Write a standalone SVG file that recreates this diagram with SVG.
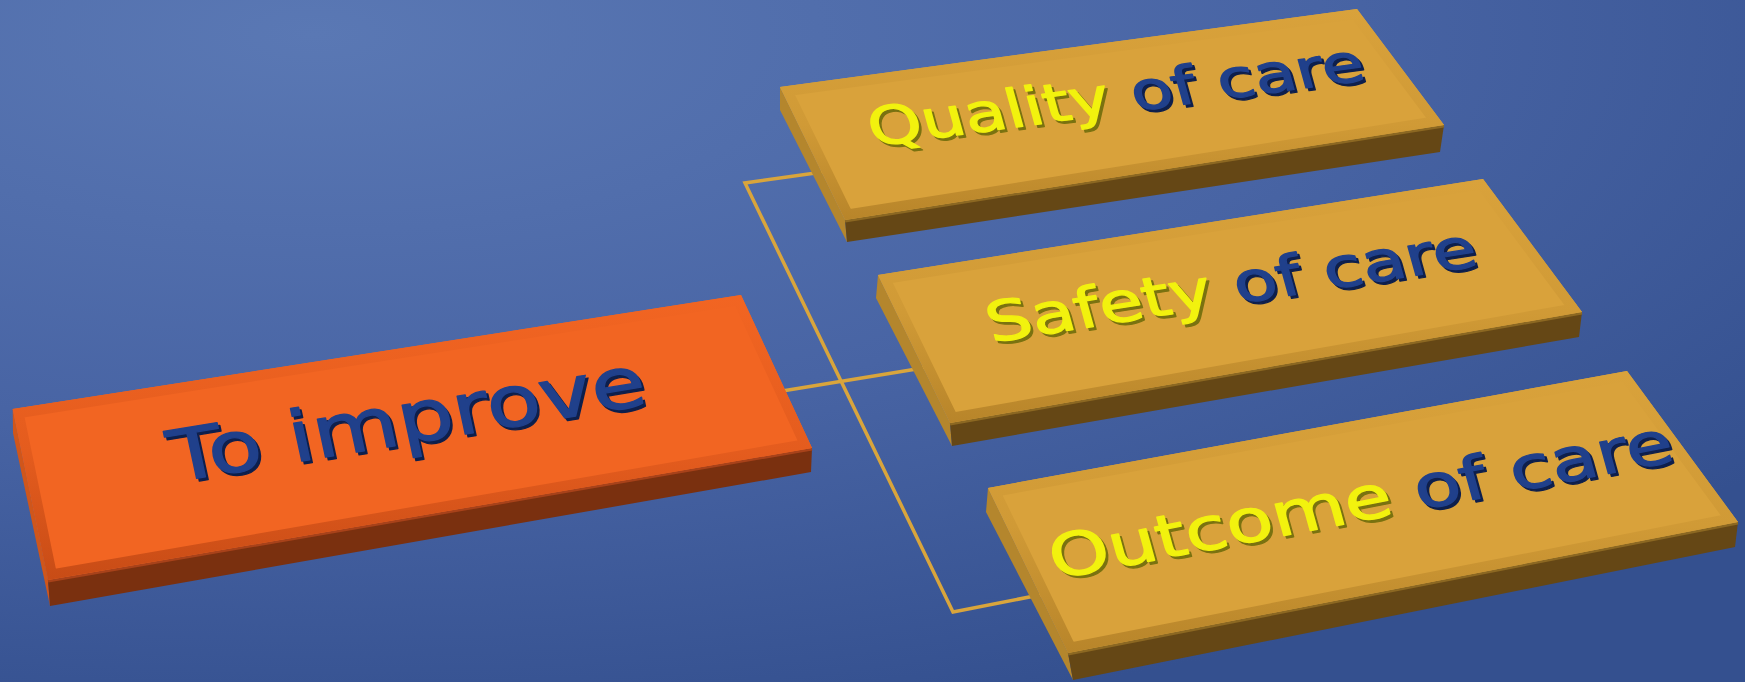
<svg xmlns="http://www.w3.org/2000/svg" width="1745" height="682" viewBox="0 0 1745 682">
<defs>
<radialGradient id="bg" cx="0.18" cy="0.05" r="1.05">
<stop offset="0" stop-color="#5A78B4"/>
<stop offset="0.55" stop-color="#4864A4"/>
<stop offset="1" stop-color="#34508F"/>
</radialGradient>
<linearGradient id="goldBevel" x1="0" y1="0" x2="0" y2="1">
<stop offset="0" stop-color="#D9A23B"/>
<stop offset="0.55" stop-color="#D09A36"/>
<stop offset="1" stop-color="#B8852A"/>
</linearGradient>
<linearGradient id="orangeBevel" x1="0" y1="0" x2="0" y2="1">
<stop offset="0" stop-color="#F26522"/>
<stop offset="0.55" stop-color="#E45C1E"/>
<stop offset="1" stop-color="#C84C16"/>
</linearGradient>
<polygon id="o-top" points="12.7,409 741,295 812,448 48,580"/>
<polygon id="q-top" points="780,87 1357,9 1444,125 845,220"/>
<polygon id="s-top" points="878,275 1483,179 1582,312 950,423"/>
<polygon id="c-top" points="988,488 1627,371 1738,522 1068,653"/>
<clipPath id="o-clip"><use href="#o-top"/></clipPath>
<clipPath id="q-clip"><use href="#q-top"/></clipPath>
<clipPath id="s-clip"><use href="#s-top"/></clipPath>
<clipPath id="c-clip"><use href="#c-top"/></clipPath>
</defs>
<style>
.bg{fill:url(#bg)}
.conn{fill:none;stroke:#D9A53C;stroke-width:3.5;stroke-linecap:round;stroke-linejoin:miter}
.g-top{fill:#D9A23B}
.g-bevel{fill:none;stroke:url(#goldBevel);stroke-width:20}
.g-front{fill:#654715}
.g-side{fill:#B4862D}
.g-edge{fill:none;stroke:#8C6822;stroke-width:3}
.o-top{fill:#F26522}
.o-bevel{fill:none;stroke:url(#orangeBevel);stroke-width:20}
.o-front{fill:#7A300F}
.o-side{fill:#D0561B}
.o-edge{fill:none;stroke:#A8421A;stroke-width:3}
.lbl{font-family:"DejaVu Sans",Verdana,sans-serif;text-anchor:middle;stroke-width:1.6;stroke-linejoin:round}
.blue{fill:#20408B;stroke:#20408B}
.yel{fill:#F2F20E;stroke:#F2F20E}
.sh-b{fill:#0E1F4C;stroke:#0E1F4C}
.sh-y{fill:#7A7210;stroke:#7A7210}
</style>
<rect class="bg" x="0" y="0" width="1745" height="682"/>
<g id="connectors">
<polyline class="conn" points="830,171 745,183 953,612 1060,591"/>
<line class="conn" x1="770" y1="393" x2="935" y2="366"/>
</g>
<g id="node-improve">
<polygon class="o-side" points="12.7,409 48,580 50,606 13,433"/>
<polygon class="o-front" points="48,580 812,448 811,472 50,606"/>
<line class="o-edge" x1="48" y1="581" x2="812" y2="449"/>
<use href="#o-top" class="o-top"/>
<use href="#o-top" class="o-bevel" clip-path="url(#o-clip)"/>
<g transform="matrix(0.9876 -0.162 0.17 0.79 412 443)">
<text class="lbl sh-b" x="2" y="4" font-size="88">To improve</text>
<text class="lbl blue" x="0" y="0" font-size="88">To improve</text>
</g>
</g>
<g id="node-quality">
<polygon class="g-side" points="780,87 845,220 847,242 780,110"/>
<polygon class="g-front" points="845,220 1444,125 1440,152 847,242"/>
<line class="g-edge" x1="845" y1="221" x2="1444" y2="126"/>
<use href="#q-top" class="g-top"/>
<use href="#q-top" class="g-bevel" clip-path="url(#q-clip)"/>
<g transform="matrix(0.991 -0.134 0.21 0.76 1120.5 113)">
<text class="lbl" x="2" y="4" font-size="68"><tspan class="sh-y">Quality</tspan><tspan class="sh-b"> of care</tspan></text>
<text class="lbl" x="0" y="0" font-size="68"><tspan class="yel">Quality</tspan><tspan class="blue"> of care</tspan></text>
</g>
</g>
<g id="node-safety">
<polygon class="g-side" points="878,275 950,423 952,446 876,298"/>
<polygon class="g-front" points="950,423 1582,312 1579,337 952,446"/>
<line class="g-edge" x1="950" y1="424" x2="1582" y2="313"/>
<use href="#s-top" class="g-top"/>
<use href="#s-top" class="g-bevel" clip-path="url(#s-clip)"/>
<g transform="matrix(0.988 -0.156 0.21 0.76 1236 304)">
<text class="lbl" x="2" y="4" font-size="71"><tspan class="sh-y">Safety</tspan><tspan class="sh-b"> of care</tspan></text>
<text class="lbl" x="0" y="0" font-size="71"><tspan class="yel">Safety</tspan><tspan class="blue"> of care</tspan></text>
</g>
</g>
<g id="node-outcome">
<polygon class="g-side" points="988,488 1068,653 1073,680 986,512"/>
<polygon class="g-front" points="1068,653 1738,522 1735,547 1073,680"/>
<line class="g-edge" x1="1068" y1="654" x2="1738" y2="523"/>
<use href="#c-top" class="g-top"/>
<use href="#c-top" class="g-bevel" clip-path="url(#c-clip)"/>
<g transform="matrix(0.982 -0.187 0.21 0.76 1366 520)">
<text class="lbl" x="2" y="4" font-size="76"><tspan class="sh-y">Outcome</tspan><tspan class="sh-b"> of care</tspan></text>
<text class="lbl" x="0" y="0" font-size="76"><tspan class="yel">Outcome</tspan><tspan class="blue"> of care</tspan></text>
</g>
</g>
</svg>
